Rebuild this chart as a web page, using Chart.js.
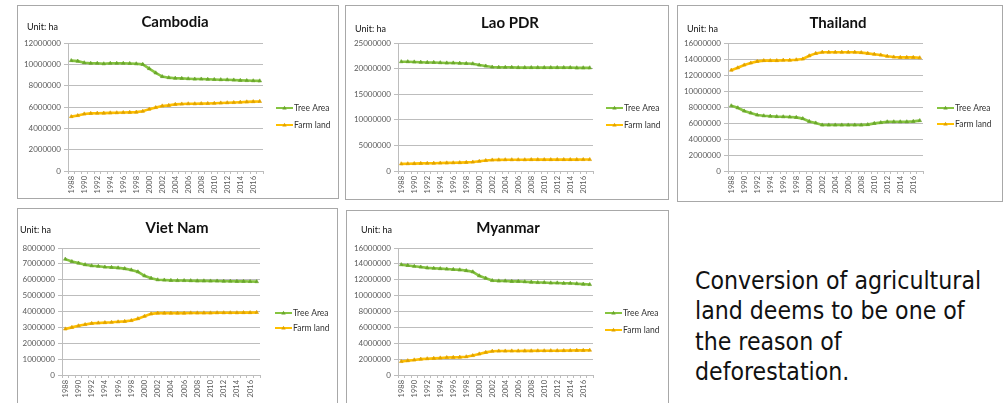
<!DOCTYPE html>
<html>
<head>
<meta charset="utf-8">
<script src="https://cdn.jsdelivr.net/npm/chart.js@4.4.1/dist/chart.umd.min.js"></script>
<style>
  html, body { margin: 0; padding: 0; background: #fff; }
  body { position: relative; width: 1006px; height: 403px; overflow: hidden; }
  .frame { position: absolute; border: 1px solid #a8a8a8; box-sizing: border-box; background: #fff; }
  canvas.panel { position: absolute; }
  #note {
    position: absolute; left: 695px; top: 266px; margin: 0;
    font-family: "DejaVu Sans Condensed", "DejaVu Sans", sans-serif;
    font-stretch: condensed; font-size: 24.6px; line-height: 30.3px; color: #111;
  }
</style>
</head>
<body>
<p id="note">Conversion of agricultural<br>land deems to be one of<br>the reason of<br>deforestation.</p>
<script>
// Years on the category axis (every other one is labelled)
const years = [1988, 1989, 1990, 1991, 1992, 1993, 1994, 1995, 1996, 1997,
               1998, 1999, 2000, 2001, 2002, 2003, 2004, 2005, 2006, 2007,
               2008, 2009, 2010, 2011, 2012, 2013, 2014, 2015, 2016, 2017];

const seriesNames = ['Tree Area', 'Farm land'];

// Hectares per country
const cambodiaTree = [10350000, 10300000, 10150000, 10100000, 10100000, 10050000, 10100000, 10100000, 10100000, 10080000,
                      10050000, 10000000, 9600000, 9200000, 8850000, 8750000, 8700000, 8680000, 8650000, 8620000,
                      8620000, 8600000, 8580000, 8560000, 8550000, 8530000, 8500000, 8480000, 8460000, 8450000];
const cambodiaFarm = [5100000, 5200000, 5350000, 5400000, 5420000, 5430000, 5450000, 5460000, 5480000, 5500000,
                      5520000, 5600000, 5800000, 5950000, 6100000, 6150000, 6250000, 6280000, 6300000, 6300000,
                      6320000, 6330000, 6350000, 6380000, 6400000, 6420000, 6450000, 6480000, 6500000, 6520000];

const laoTree = [21350000, 21350000, 21300000, 21250000, 21200000, 21200000, 21150000, 21100000, 21100000, 21050000,
                 21000000, 20950000, 20700000, 20500000, 20300000, 20250000, 20250000, 20250000, 20200000, 20200000,
                 20200000, 20200000, 20200000, 20200000, 20200000, 20200000, 20200000, 20150000, 20150000, 20150000];
const laoFarm = [1400000, 1420000, 1450000, 1480000, 1500000, 1520000, 1550000, 1580000, 1600000, 1630000,
                 1680000, 1750000, 1900000, 2050000, 2150000, 2180000, 2200000, 2200000, 2200000, 2200000,
                 2220000, 2220000, 2220000, 2220000, 2230000, 2230000, 2230000, 2230000, 2240000, 2240000];

const thaiTree = [8150000, 7900000, 7500000, 7250000, 7000000, 6900000, 6850000, 6800000, 6780000, 6750000,
                  6700000, 6550000, 6200000, 6000000, 5750000, 5750000, 5750000, 5750000, 5750000, 5750000,
                  5750000, 5800000, 5950000, 6050000, 6150000, 6150000, 6150000, 6150000, 6200000, 6300000];
const thaiFarm = [12600000, 12900000, 13250000, 13500000, 13700000, 13800000, 13800000, 13800000, 13850000, 13850000,
                  13900000, 14000000, 14400000, 14700000, 14850000, 14850000, 14850000, 14850000, 14850000, 14850000,
                  14800000, 14700000, 14600000, 14500000, 14350000, 14250000, 14200000, 14200000, 14200000, 14150000];

const vietTree = [7300000, 7150000, 7050000, 6950000, 6880000, 6850000, 6800000, 6780000, 6750000, 6700000,
                  6620000, 6500000, 6250000, 6100000, 6000000, 5980000, 5960000, 5950000, 5950000, 5940000,
                  5930000, 5930000, 5920000, 5920000, 5910000, 5910000, 5900000, 5900000, 5890000, 5880000];
const vietFarm = [2900000, 3000000, 3100000, 3180000, 3250000, 3280000, 3300000, 3320000, 3350000, 3380000,
                  3430000, 3550000, 3700000, 3850000, 3900000, 3900000, 3900000, 3900000, 3900000, 3910000,
                  3910000, 3910000, 3910000, 3920000, 3920000, 3920000, 3920000, 3930000, 3930000, 3940000];

const myanmarTree = [13900000, 13800000, 13700000, 13600000, 13500000, 13450000, 13400000, 13350000, 13300000, 13250000,
                     13150000, 13000000, 12500000, 12200000, 11900000, 11850000, 11850000, 11800000, 11800000, 11750000,
                     11700000, 11650000, 11650000, 11600000, 11600000, 11550000, 11550000, 11500000, 11450000, 11400000];
const myanmarFarm = [1700000, 1800000, 1900000, 2000000, 2050000, 2100000, 2150000, 2200000, 2220000, 2250000,
                     2300000, 2450000, 2650000, 2850000, 3000000, 3020000, 3020000, 3030000, 3030000, 3040000,
                     3040000, 3050000, 3050000, 3060000, 3060000, 3070000, 3080000, 3100000, 3100000, 3120000];

// Value axis ranges: [max, step]
const cambodiaAxis = [12000000, 2000000];
const laoAxis = [25000000, 5000000];
const thaiAxis = [16000000, 2000000];
const vietAxis = [8000000, 1000000];
const myanmarAxis = [16000000, 2000000];

const GREEN = '#86c440';
const GREEN_MARK = '#6aa62c';
const GOLD = '#ffc000';
const GOLD_MARK = '#e0a200';
const GRID = '#bdbdbd';
const TICK_TEXT = '#5a5a5a';

// Title, unit note and the line+marker legend, painted inside each panel
const panelText = {
  id: 'panelText',
  afterDraw(chart, args, o) {
    const ctx = chart.ctx;
    ctx.save();
    ctx.fillStyle = '#111';
    ctx.textBaseline = 'middle';
    ctx.font = 'bold 15px Lato, "Liberation Sans", sans-serif';
    ctx.textAlign = 'center';
    ctx.fillText(o.title, o.titleX, o.titleY);
    ctx.font = '9px Lato, "Liberation Sans", sans-serif';
    ctx.textAlign = 'left';
    ctx.fillText('Unit: ha', o.unitX, o.unitY);
    ctx.font = '8.5px Lato, "Liberation Sans", sans-serif';
    chart.data.datasets.forEach((ds, i) => {
      const y = o.legendY[i];
      ctx.strokeStyle = ds.borderColor;
      ctx.lineWidth = 2;
      ctx.beginPath();
      ctx.moveTo(o.legendX, y);
      ctx.lineTo(o.legendX + 17, y);
      ctx.stroke();
      ctx.fillStyle = ds.pointBackgroundColor;
      ctx.beginPath();
      ctx.moveTo(o.legendX + 8.5, y - 2.2);
      ctx.lineTo(o.legendX + 10.7, y + 1.6);
      ctx.lineTo(o.legendX + 6.3, y + 1.6);
      ctx.closePath();
      ctx.fill();
      ctx.fillStyle = '#333';
      ctx.fillText(ds.label, o.legendX + 18, y + 0.5);
    });
    ctx.restore();
  }
};

function makePanel(spec) {
  const b = spec.box, p = spec.plot;
  const frame = document.createElement('div');
  frame.className = 'frame';
  Object.assign(frame.style, { left: b.x + 'px', top: b.y + 'px', width: b.w + 'px', height: b.h + 'px' });
  document.body.appendChild(frame);

  const cv = document.createElement('canvas');
  cv.className = 'panel';
  cv.width = b.w; cv.height = b.h;
  Object.assign(cv.style, { left: b.x + 'px', top: b.y + 'px', width: b.w + 'px', height: b.h + 'px' });
  document.body.appendChild(cv);

  const line = (label, data, color, mark) => ({
    label, data,
    borderColor: color, backgroundColor: color,
    borderWidth: 2.6,
    pointStyle: 'triangle', pointRadius: 2.1,
    pointBackgroundColor: mark, pointBorderColor: mark, pointBorderWidth: 0.6,
    tension: 0
  });

  new Chart(cv, {
    type: 'line',
    data: {
      labels: years.map(String),
      datasets: [
        line(seriesNames[0], spec.tree, GREEN, GREEN_MARK),
        line(seriesNames[1], spec.farm, GOLD, GOLD_MARK)
      ]
    },
    options: {
      responsive: false,
      animation: false,
      devicePixelRatio: 1,
      layout: { padding: { left: 0, top: p.t - b.y, right: (b.x + b.w) - p.r, bottom: 0 } },
      plugins: {
        legend: { display: false },
        title: { display: false },
        tooltip: { enabled: false },
        panelText: {
          title: spec.title,
          titleX: spec.titleX - b.x, titleY: spec.titleY - b.y,
          unitX: spec.unitX - b.x, unitY: spec.unitY - b.y,
          legendX: spec.legendX - b.x,
          legendY: spec.legendY.map(v => v - b.y)
        }
      },
      scales: {
        x: {
          type: 'category',
          offset: true,
          grid: { offset: true, drawOnChartArea: false, drawTicks: true, tickLength: 3, color: GRID },
          border: { display: true, color: GRID },
          ticks: {
            autoSkip: false, maxRotation: 90, minRotation: 90, padding: 2,
            color: TICK_TEXT,
            font: { family: 'Lato, "Liberation Sans", sans-serif', size: 7.5 },
            callback: (v, i) => (i % 2 === 0 ? String(years[i]) : '')
          },
          afterFit: s => { s.height = (b.y + b.h) - p.b; }
        },
        y: {
          min: 0, max: spec.axis[0],
          grid: { color: GRID, tickLength: 4 },
          border: { display: true, color: GRID },
          ticks: {
            stepSize: spec.axis[1], padding: 3,
            color: TICK_TEXT,
            font: { family: 'Lato, "Liberation Sans", sans-serif', size: 8 },
            callback: v => String(v)
          },
          afterFit: s => { s.width = p.l - b.x; }
        }
      }
    },
    plugins: [panelText]
  });
}

makePanel({
  title: 'Cambodia', tree: cambodiaTree, farm: cambodiaFarm, axis: cambodiaAxis,
  box: { x: 17, y: 5, w: 322, h: 194 }, plot: { l: 68, t: 43, r: 263, b: 171 },
  titleX: 175, titleY: 22, unitX: 27, unitY: 27, legendX: 276, legendY: [108, 125]
});
makePanel({
  title: 'Lao PDR', tree: laoTree, farm: laoFarm, axis: laoAxis,
  box: { x: 345, y: 5, w: 324, h: 195 }, plot: { l: 398, t: 43, r: 593, b: 171 },
  titleX: 510, titleY: 23, unitX: 355, unitY: 29, legendX: 606, legendY: [108, 125]
});
makePanel({
  title: 'Thailand', tree: thaiTree, farm: thaiFarm, axis: thaiAxis,
  box: { x: 677, y: 5, w: 326, h: 197 }, plot: { l: 728, t: 43, r: 923, b: 171 },
  titleX: 838, titleY: 23, unitX: 687, unitY: 29, legendX: 937, legendY: [108, 124]
});
makePanel({
  title: 'Viet Nam', tree: vietTree, farm: vietFarm, axis: vietAxis,
  box: { x: 17, y: 208, w: 321, h: 205 }, plot: { l: 62, t: 248, r: 260, b: 375 },
  titleX: 177, titleY: 228, unitX: 20, unitY: 230, legendX: 275, legendY: [313, 328]
});
makePanel({
  title: 'Myanmar', tree: myanmarTree, farm: myanmarFarm, axis: myanmarAxis,
  box: { x: 346, y: 210, w: 323, h: 205 }, plot: { l: 398, t: 248, r: 593, b: 375 },
  titleX: 508, titleY: 228, unitX: 361, unitY: 230, legendX: 605, legendY: [313, 330]
});
</script>
</body>
</html>
